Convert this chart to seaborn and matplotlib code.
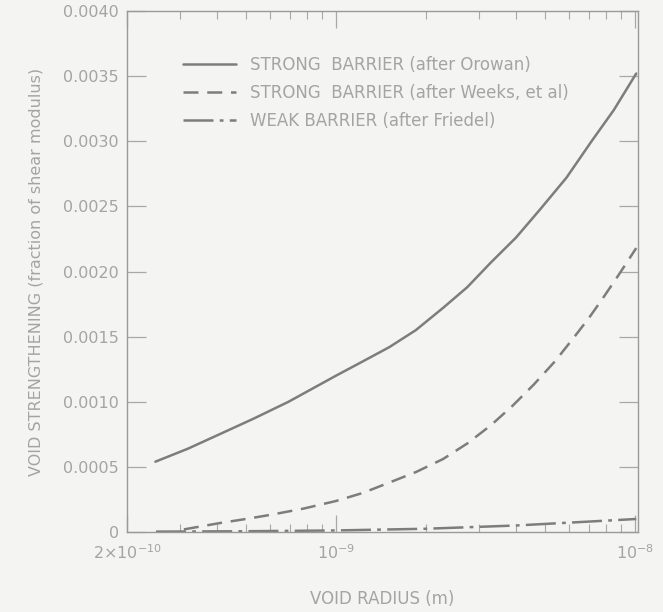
import numpy as np
import pandas as pd
import matplotlib
matplotlib.use("Agg")
import matplotlib.pyplot as plt
import matplotlib.ticker as mticker
import seaborn as sns

# ---- data ----
orowan_r = [2.49e-10, 3.2e-10, 4.12e-10, 5.3e-10, 6.94e-10, 1.0e-9, 1.23e-9, 1.51e-9, 1.85e-9,
            2.28e-9, 2.75e-9, 3.3e-9, 4.0e-9, 4.83e-9, 5.9e-9, 7.16e-9, 8.5e-9, 1.01e-8]
orowan_s = [0.00054, 0.00064, 0.000755, 0.00087, 0.00100, 0.00120, 0.00131, 0.00142, 0.00155,
            0.00172, 0.00188, 0.00207, 0.00226, 0.00248, 0.00272, 0.00300, 0.00324, 0.00352]

weeks_r = [3.1e-10, 4.12e-10, 5.0e-10, 6.08e-10, 7.8e-10, 1.0e-9, 1.23e-9, 1.51e-9, 1.85e-9, 2.28e-9,
           2.75e-9, 3.3e-9, 3.9e-9, 4.58e-9, 5.4e-9, 6.28e-9, 7.0e-9, 7.73e-9, 8.8e-9, 1.01e-8]
weeks_s = [0.00002, 0.00007, 0.00010, 0.000133, 0.00018, 0.000238, 0.00030, 0.00038, 0.00046, 0.00056,
           0.00068, 0.00082, 0.00097, 0.00113, 0.00131, 0.00150, 0.00164, 0.00178, 0.00197, 0.00218]

friedel_r = [2.5e-10, 5.0e-10, 1.0e-9, 2.0e-9, 4.0e-9, 7.0e-9, 1.01e-8]
friedel_s = [0.000003, 0.000006, 0.000012, 0.000025, 0.00005, 0.00008, 0.0001]

labels = ["STRONG  BARRIER (after Orowan)",
          "STRONG  BARRIER (after Weeks, et al)",
          "WEAK BARRIER (after Friedel)"]

y_ticks = [0, 0.0005, 0.0010, 0.0015, 0.0020, 0.0025, 0.0030, 0.0035, 0.0040]
y_ticklabels = ["0", "0.0005", "0.0010", "0.0015", "0.0020", "0.0025", "0.0030", "0.0035", "0.0040"]
x_ticks = [2e-10, 1e-9, 1e-8]
x_ticklabels = [r"2$\times$10$^{-10}$", r"10$^{-9}$", r"10$^{-8}$"]

df = pd.concat([
    pd.DataFrame({"r": orowan_r, "s": orowan_s, "series": labels[0]}),
    pd.DataFrame({"r": weeks_r, "s": weeks_s, "series": labels[1]}),
    pd.DataFrame({"r": friedel_r, "s": friedel_s, "series": labels[2]}),
])

sns.set_style("ticks")
plt.rcParams['font.family'] = ['DejaVu Sans']
bg = "#f4f4f2"
line_c = "#7d7d7d"
text_c = "#a4a4a4"

fig = plt.figure(figsize=(6.63, 6.12), dpi=100, facecolor=bg)
ax = fig.add_axes([0.1915, 0.1307, 0.771, 0.8513], facecolor=bg)

for i, lab in enumerate(labels):
    sub = df[df["series"] == lab]
    sns.lineplot(data=sub, x="r", y="s", ax=ax, color=line_c, linewidth=1.8,
                 label=lab, sort=True, estimator=None)
lines = ax.get_lines()
lines[1].set_dashes([6, 3.5])
lines[2].set_dashes([12, 2.5, 1.5, 2.5])

ax.set_xscale("log")
ax.set_xlim(2e-10, 1.025e-8)
ax.set_ylim(0, 0.0040)

ax.set_yticks(y_ticks)
ax.set_yticklabels(y_ticklabels)
ax.set_xticks(x_ticks)
ax.set_xticklabels(x_ticklabels)
ax.xaxis.set_minor_locator(mticker.LogLocator(base=10, subs=np.arange(2, 10)))
ax.xaxis.set_minor_formatter(mticker.NullFormatter())

for sp in ax.spines.values():
    sp.set_color("#9a9a9a")
    sp.set_linewidth(1.0)

ax.tick_params(axis="y", which="major", direction="in", length=14, width=0.9,
               colors="#a8a8a8", labelcolor=text_c, labelsize=11.5, left=True, right=True, pad=6)
ax.tick_params(axis="x", which="major", direction="in", length=12, width=0.9,
               colors="#a8a8a8", labelcolor=text_c, labelsize=11.5, top=True, bottom=True, pad=8)
ax.tick_params(axis="x", which="minor", direction="in", length=6, width=0.8,
               colors="#a8a8a8", top=True, bottom=True)

ax.set_xlabel("VOID RADIUS (m)", color=text_c, fontsize=12, labelpad=20)
ax.set_ylabel("VOID STRENGTHENING (fraction of shear modulus)", color=text_c, fontsize=11.5, labelpad=14)

leg = ax.legend(loc="upper left", bbox_to_anchor=(0.08, 0.942), frameon=False,
                fontsize=12, handlelength=3.2, handletextpad=0.8, labelspacing=0.6)
for t in leg.get_texts():
    t.set_color(text_c)

fig.savefig("out.png", dpi=100, facecolor=bg)
